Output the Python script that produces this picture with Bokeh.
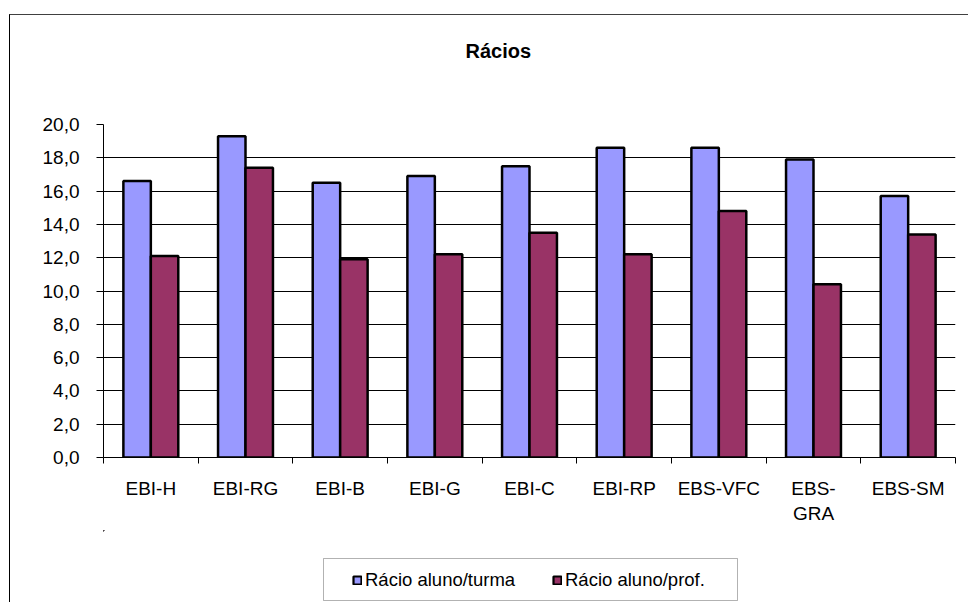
from bokeh.plotting import figure
from bokeh.layouts import column
from bokeh.models import (Range1d, FixedTicker, LinearAxis, Legend, LegendItem,
                          ColumnDataSource, Grid, Label, BoxAnnotation)
from bokeh.transform import dodge
from bokeh.embed import file_html
from bokeh.resources import INLINE

categories = ["EBI-H", "EBI-RG", "EBI-B", "EBI-G", "EBI-C", "EBI-RP", "EBS-VFC", "EBS-GRA", "EBS-SM"]
x_labels = ["EBI-H", "EBI-RG", "EBI-B", "EBI-G", "EBI-C", "EBI-RP", "EBS-VFC", "EBS-\nGRA", "EBS-SM"]
turma = [16.6, 19.3, 16.5, 16.9, 17.5, 18.6, 18.6, 17.9, 15.7]
prof = [12.1, 17.4, 11.9, 12.2, 13.5, 12.2, 14.8, 10.4, 13.4]
series_names = ["Rácio aluno/turma", "Rácio aluno/prof."]
colors = ["#9999FF", "#993366"]
title_text = "Rácios"
y_ticks = [0, 2, 4, 6, 8, 10, 12, 14, 16, 18, 20]
y_tick_labels = ["0,0", "2,0", "4,0", "6,0", "8,0", "10,0", "12,0", "14,0", "16,0", "18,0", "20,0"]

FONT = "Liberation Sans"
W = 958
ML, MR = 93, 13
FW = W - ML - MR  # frame width in px
n = len(categories)
centers = [i + 0.5 for i in range(n)]
bounds = [float(i) for i in range(n + 1)]

src = ColumnDataSource(dict(cat=categories, center=centers, turma=turma, prof=prof))


def bare_fig(h, x0=0, y0=0):
    f = figure(width=W, height=h, output_backend="svg", toolbar_location=None,
               x_range=Range1d(x0, x0 + FW), y_range=Range1d(y0, y0 + h),
               x_axis_location=None, y_axis_location=None,
               min_border_left=ML, min_border_right=MR, min_border_top=0, min_border_bottom=0)
    f.center = [r for r in f.center if not isinstance(r, Grid)]
    f.outline_line_color = None
    f.title.text = ""
    return f


# ---- title strip ----
TH = 97
tf = bare_fig(TH)
tf.add_layout(Label(x=362, y=TH - 24, text=title_text, text_baseline="top",
                    text_font=FONT, text_font_size="20px", text_font_style="bold",
                    text_color="black"))

# ---- main chart ----
p = figure(width=W, height=418, output_backend="svg", toolbar_location=None,
           x_range=Range1d(0, n), y_range=Range1d(0, 20),
           x_axis_location=None, y_axis_location=None,
           min_border_left=ML, min_border_right=MR, min_border_top=12, min_border_bottom=73)
p.outline_line_color = None
p.title.text = ""
p.center = [r for r in p.center if not isinstance(r, Grid)]

yticker = FixedTicker(ticks=y_ticks, minor_ticks=[])
yaxis = LinearAxis(ticker=yticker)
yaxis.major_label_overrides = {t: l for t, l in zip(y_ticks, y_tick_labels)}
yaxis.major_tick_out = 7
yaxis.major_tick_in = 0
yaxis.major_label_standoff = 17
yaxis.major_label_text_font = FONT
yaxis.major_label_text_font_size = "19px"
yaxis.major_label_text_color = "black"
yaxis.axis_line_color = "black"
yaxis.major_tick_line_color = "black"
p.add_layout(yaxis, "left")
p.add_layout(Grid(dimension=1, ticker=yticker, grid_line_color="black", grid_line_width=1))

xticker = FixedTicker(ticks=centers, minor_ticks=bounds)
xaxis = LinearAxis(ticker=xticker)
xaxis.major_label_overrides = {c: l for c, l in zip(centers, x_labels)}
xaxis.major_tick_line_color = None
xaxis.major_tick_out = 6
xaxis.major_tick_in = 0
xaxis.minor_tick_line_color = "black"
xaxis.minor_tick_out = 6
xaxis.minor_tick_in = 0
xaxis.major_label_standoff = 14
xaxis.major_label_text_font = FONT
xaxis.major_label_text_font_size = "19px"
xaxis.major_label_text_color = "black"
xaxis.axis_line_color = "black"
p.add_layout(xaxis, "below")

p.vbar(x=dodge("center", -0.145, range=p.x_range), top="turma", width=0.29, source=src,
       fill_color=colors[0], line_color="black", line_width=2.5)
p.vbar(x=dodge("center", 0.145, range=p.x_range), top="prof", width=0.29, source=src,
       fill_color=colors[1], line_color="black", line_width=2.5)

# ---- legend strip (its bars lie outside the visible ranges; only swatches show) ----
LH = 72
X0, Y0 = 1000, -1000
lf = bare_fig(LH, X0, Y0)
l1 = lf.vbar(x="center", top="turma", width=0.29, source=src, fill_color=colors[0],
             line_color="black", line_width=2.2)
l2 = lf.vbar(x="center", top="prof", width=0.29, source=src, fill_color=colors[1],
             line_color="black", line_width=2.2)
# white patch over the clipped edge of the off-view bars
lf.add_layout(BoxAnnotation(left=X0 - 10, right=X0 + 20, bottom=Y0 + LH - 8, top=Y0 + LH + 10,
                            fill_color="white", fill_alpha=1, line_color=None))
legend = Legend(items=[LegendItem(label=series_names[0], renderers=[l1]),
                       LegendItem(label=series_names[1], renderers=[l2])],
                location=(249, 11), orientation="horizontal", margin=0,
                padding=11, spacing=27, label_width=160, glyph_width=10, glyph_height=10,
                label_standoff=3, border_line_color=None, background_fill_alpha=0,
                label_text_font=FONT, label_text_font_size="18.5px", label_text_color="black")
lf.add_layout(BoxAnnotation(left=X0 + 220, right=X0 + 634, bottom=Y0 + 2, top=Y0 + 44,
                            fill_alpha=0, line_color="black", line_width=1))
lf.add_layout(legend)

layout = column(tf, p, lf, spacing=0)
layout.styles = {"margin-left": "9px", "margin-top": "14px",
                 "border-top": "1px solid #404040", "border-left": "1px solid black"}

open("out.html", "w").write(file_html(layout, INLINE))
